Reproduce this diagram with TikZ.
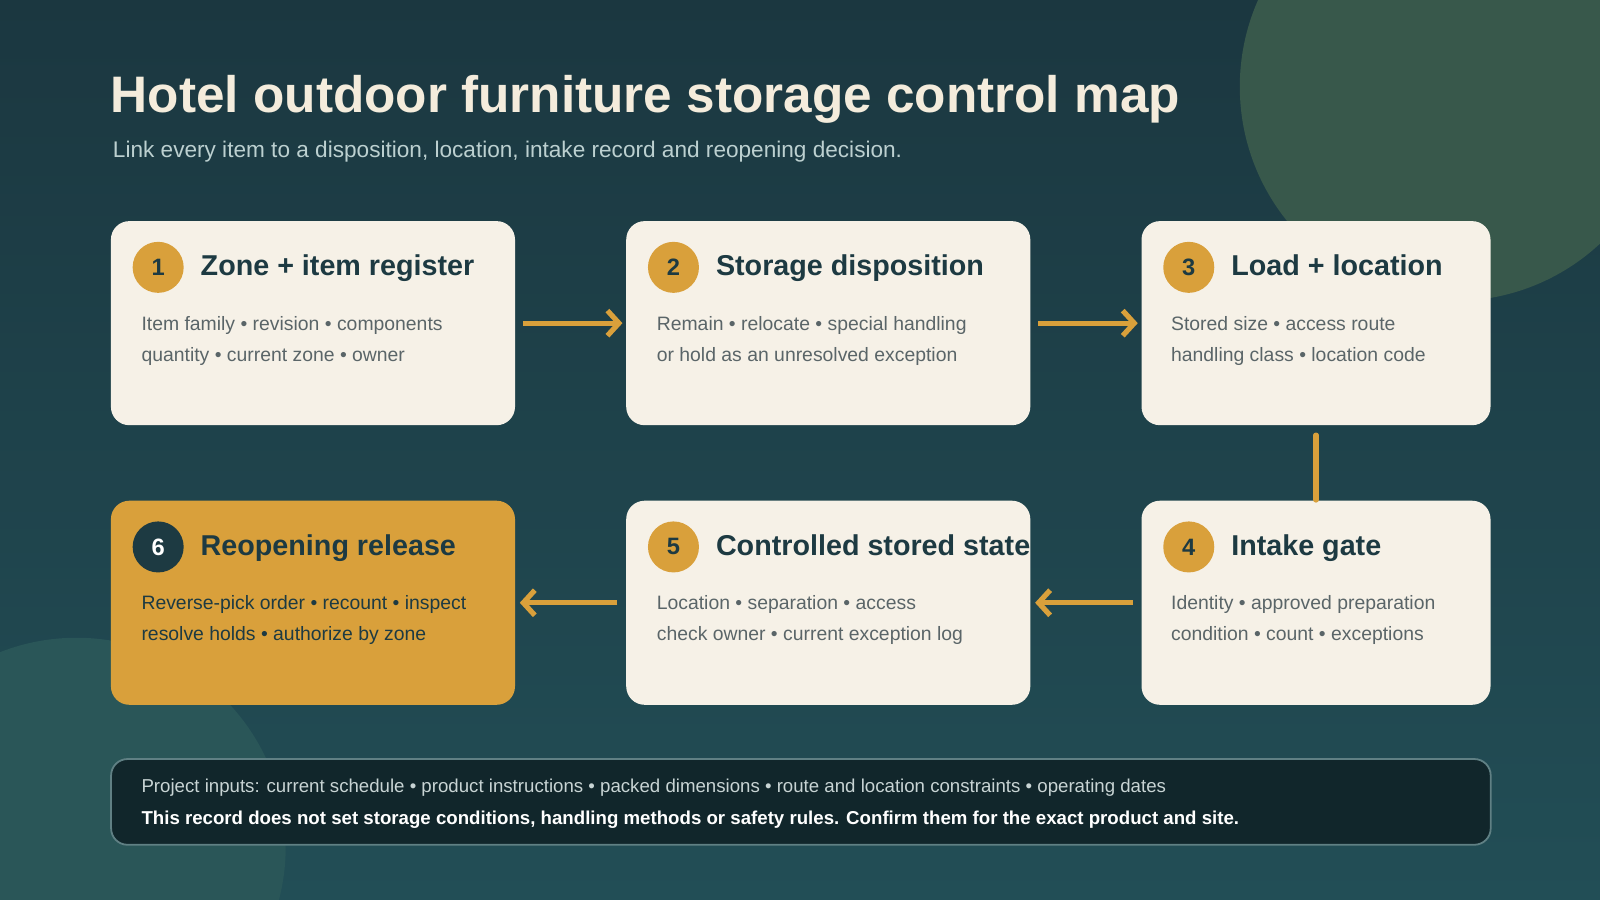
\documentclass[tikz,border=0pt]{standalone}
\usepackage{fontspec}
\setmainfont{Liberation Sans}
\usetikzlibrary{positioning,arrows.meta,calc}
\definecolor{bgtop}{HTML}{1B3740}
\definecolor{bgbot}{HTML}{224E56}
\definecolor{card}{HTML}{F6F1E7}
\definecolor{gold}{HTML}{D9A03B}
\definecolor{ink}{HTML}{1D3A42}
\definecolor{body}{HTML}{5A6568}
\definecolor{note}{HTML}{11262B}
\tikzset{
  card/.style={draw=none,fill=card,rounded corners=18*0.01cm,minimum width=396*0.01cm,minimum height=200*0.01cm,anchor=north west,inner sep=0pt},
  badge/.style={circle,fill=gold,minimum size=50*0.01cm,inner sep=0pt,text=ink,font=\fontsize{6.6pt}{7pt}\selectfont\bfseries},
  ctitle/.style={anchor=base west,text=ink,inner sep=0pt,font=\fontsize{8pt}{9pt}\selectfont\bfseries},
  cbody/.style={anchor=north west,text=body,inner sep=0pt,align=left,font=\fontsize{5.4pt}{8.7pt}\selectfont},
  flow/.style={draw=gold,line width=1.45pt,-{Straight Barb[length=3.2pt,width=7pt,line width=1.45pt]}}
}
\begin{document}
\begin{tikzpicture}[x=0.01cm,y=-0.01cm]
  \useasboundingbox (0,0) rectangle (1568,882);
  \shade[top color=bgtop,bottom color=bgbot] (0,0) rectangle (1568,882);
  \begin{scope}
    \clip (0,0) rectangle (1568,882);
    \fill[fill={rgb,255:red,56;green,88;blue,75}] (1425,85) circle (210);
    \fill[fill={rgb,255:red,42;green,86;blue,88}] (75,830) circle (205);
  \end{scope}
  % heading
  \node[anchor=base west,inner sep=0pt,text={rgb,255:red,244;green,236;blue,220},font=\fontsize{14.3pt}{16pt}\selectfont\bfseries] (title) at (108,110) {Hotel outdoor furniture storage control map};
  \node[anchor=base west,inner sep=0pt,text={rgb,255:red,188;green,208;blue,208},font=\fontsize{6.3pt}{7pt}\selectfont] (sub) at (110,154) {Link every item to a disposition, location, intake record and reopening decision.};
  % cards
  \node[card] (c1) at (108,216) {};
  \node[card] (c2) at (613,216) {};
  \node[card,minimum width=342*0.01cm] (c3) at (1118,216) {};
  \node[card,fill=gold] (c6) at (108,490) {};
  \node[card] (c5) at (613,490) {};
  \node[card,minimum width=342*0.01cm] (c4) at (1118,490) {};
  % badges
  \node[badge] (b1) at (155,262) {1};
  \node[badge] (b2) at (660,262) {2};
  \node[badge] (b3) at (1165,262) {3};
  \node[badge] (b4) at (1165,536) {4};
  \node[badge] (b5) at (660,536) {5};
  \node[badge,fill=ink,text=white] (b6) at (155,536) {6};
  % titles
  \node[ctitle] (t1) at (196,270) {Zone + item register};
  \node[ctitle] (t2) at (701,270) {Storage disposition};
  \node[ctitle] (t3) at (1206,270) {Load + location};
  \node[ctitle] (t4) at (1206,544) {Intake gate};
  \node[ctitle] (t5) at (701,544) {Controlled stored state};
  \node[ctitle] (t6) at (196,544) {Reopening release};
  % body
  \node[cbody] (d1) at (138,309) {Item family • revision • components\\quantity • current zone • owner};
  \node[cbody] (d2) at (643,309) {Remain • relocate • special handling\\or hold as an unresolved exception};
  \node[cbody] (d3) at (1147,309) {Stored size • access route\\handling class • location code};
  \node[cbody] (d4) at (1147,583) {Identity • approved preparation\\condition • count • exceptions};
  \node[cbody] (d5) at (643,583) {Location • separation • access\\check owner • current exception log};
  \node[cbody,text=ink] (d6) at (138,583) {Reverse-pick order • recount • inspect\\resolve holds • authorize by zone};
  % connectors
  \draw[flow,shorten <=7*0.01cm,shorten >=3*0.01cm] (c1) -- (c2);
  \draw[flow,shorten <=7*0.01cm,shorten >=3*0.01cm] (c2) -- (c3);
  \draw[draw=gold,line width=1.45pt,line cap=round,shorten <=9*0.01cm] (c3.south) -- (c4.north);
  \draw[flow,shorten <=8*0.01cm,shorten >=4*0.01cm] (c4) -- (c5);
  \draw[flow,shorten <=8*0.01cm,shorten >=4*0.01cm] (c5) -- (c6);
  % footer note
  \node[draw={rgb,255:red,96;green,128;blue,132},line width=0.5pt,fill=note,rounded corners=16*0.01cm,minimum width=1352*0.01cm,minimum height=84*0.01cm,anchor=north west] (foot) at (108,743) {};
  \node[anchor=base west,inner sep=0pt,text={rgb,255:red,200;green,212;blue,212},font=\fontsize{5.2pt}{6pt}\selectfont] (f1) at (138,777) {Project inputs: current schedule • product instructions • packed dimensions • route and location constraints • operating dates};
  \node[anchor=base west,inner sep=0pt,text=white,font=\fontsize{5.2pt}{6pt}\selectfont\bfseries] (f2) at (138,808) {This record does not set storage conditions, handling methods or safety rules. Confirm them for the exact product and site.};
\end{tikzpicture}
\end{document}
